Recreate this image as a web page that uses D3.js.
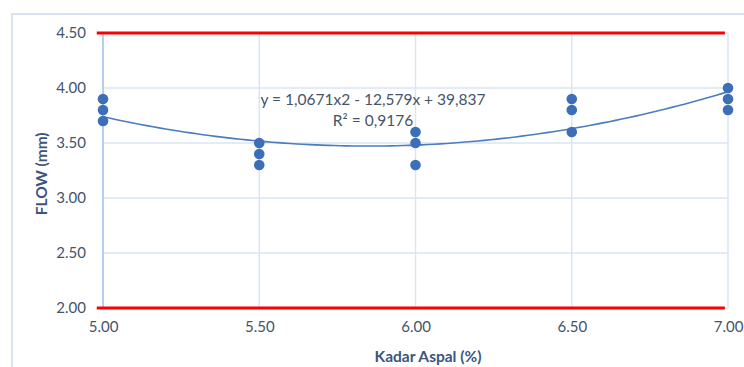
<!DOCTYPE html>
<html>
<head>
<meta charset="utf-8">
<script src="https://cdn.jsdelivr.net/npm/d3@7"></script>
<style>
  html, body { margin: 0; padding: 0; background: #fff; }
  svg { display: block; font-family: Lato, "Liberation Sans", sans-serif; }
</style>
</head>
<body>
<svg id="chart" width="744" height="367"></svg>
<script>
// Kadar aspal (%) for each test specimen and the measured flow (mm)
const kadarAspal = [5.0, 5.0, 5.0, 5.5, 5.5, 5.5, 6.0, 6.0, 6.0, 6.5, 6.5, 6.5, 7.0, 7.0, 7.0];
const flowValues = [3.9, 3.8, 3.7, 3.5, 3.4, 3.3, 3.6, 3.5, 3.3, 3.9, 3.8, 3.6, 4.0, 3.9, 3.8];

// Specification limits drawn as horizontal lines
const limitX = [4.98, 6.99];
const lowerLimit = [2.0, 2.0];
const upperLimit = [4.5, 4.5];

const xTicks = [5.0, 5.5, 6.0, 6.5, 7.0];
const yTicks = [2.0, 2.5, 3.0, 3.5, 4.0, 4.5];

const trendLabel = "y = 1,0671x2 - 12,579x + 39,837";
const r2Label = "R\u00B2 = 0,9176";

const svg = d3.select("#chart");
const textColor = "#44546A";
const titleColor = "#3B5580";

// Outer chart frame
svg.append("rect")
  .attr("x", 12).attr("y", 14)
  .attr("width", 760).attr("height", 380)
  .attr("fill", "none")
  .attr("stroke", "#D5E3F4")
  .attr("stroke-width", 2);

const x = d3.scaleLinear().domain([5.0, 7.0]).range([103, 728]);
const y = d3.scaleLinear().domain([2.0, 4.5]).range([308, 33]);

// Gridlines
svg.append("g")
  .selectAll("line")
  .data(yTicks)
  .join("line")
  .attr("x1", x(5.0)).attr("x2", x(7.0))
  .attr("y1", d => y(d)).attr("y2", d => y(d))
  .attr("stroke", "#D9E6F6").attr("stroke-width", 1.5);

svg.append("g")
  .selectAll("line")
  .data(xTicks.slice(1))
  .join("line")
  .attr("x1", d => x(d)).attr("x2", d => x(d))
  .attr("y1", y(4.5)).attr("y2", y(2.0))
  .attr("stroke", "#D9E6F6").attr("stroke-width", 1.5);

// Vertical value axis line
svg.append("line")
  .attr("x1", x(5.0)).attr("x2", x(5.0))
  .attr("y1", y(4.5)).attr("y2", y(2.0))
  .attr("stroke", "#9DC0E8").attr("stroke-width", 1.5);

// Axes (labels only)
const yAxis = d3.axisLeft(y).tickValues(yTicks).tickFormat(d3.format(".2f")).tickSize(0).tickPadding(17);
svg.append("g")
  .attr("transform", `translate(${x(5.0)},0)`)
  .call(yAxis)
  .call(g => g.select(".domain").remove())
  .call(g => g.selectAll("text").attr("fill", textColor).attr("font-size", 15).attr("font-family", "Lato, sans-serif"));

const xAxis = d3.axisBottom(x).tickValues(xTicks).tickFormat(d3.format(".2f")).tickSize(0).tickPadding(13);
svg.append("g")
  .attr("transform", `translate(0,${y(2.0)})`)
  .call(xAxis)
  .call(g => g.select(".domain").remove())
  .call(g => g.selectAll("text").attr("fill", textColor).attr("font-size", 15).attr("font-family", "Lato, sans-serif"));

// Limit lines
const pathOf = d3.line().x(d => x(d[0])).y(d => y(d[1]));
[lowerLimit, upperLimit].forEach(vals => {
  svg.append("path")
    .datum(limitX.map((xv, i) => [xv, vals[i]]))
    .attr("d", pathOf)
    .attr("fill", "none")
    .attr("stroke", "#FF0000")
    .attr("stroke-width", 3);
});

// Polynomial (order 2) least-squares trendline through the measurements
function polyFit2(xs, ys) {
  let s = [0, 0, 0, 0, 0], t = [0, 0, 0];
  xs.forEach((xv, i) => {
    let p = 1;
    for (let k = 0; k < 5; k++) { s[k] += p; if (k < 3) t[k] += p * ys[i]; p *= xv; }
  });
  const A = [[s[0], s[1], s[2], t[0]], [s[1], s[2], s[3], t[1]], [s[2], s[3], s[4], t[2]]];
  for (let c = 0; c < 3; c++) {
    for (let r = c + 1; r < 3; r++) {
      const f = A[r][c] / A[c][c];
      for (let k = c; k < 4; k++) A[r][k] -= f * A[c][k];
    }
  }
  const b = [0, 0, 0];
  for (let r = 2; r >= 0; r--) {
    let v = A[r][3];
    for (let k = r + 1; k < 3; k++) v -= A[r][k] * b[k];
    b[r] = v / A[r][r];
  }
  return b;
}
const coef = polyFit2(kadarAspal, flowValues);
const trendPts = d3.range(0, 101).map(i => {
  const xv = 5.0 + i * 0.02;
  return [xv, coef[0] + coef[1] * xv + coef[2] * xv * xv];
});
svg.append("path")
  .datum(trendPts)
  .attr("d", pathOf)
  .attr("fill", "none")
  .attr("stroke", "#4A7CC2")
  .attr("stroke-width", 1.6);

// Data points
svg.append("g")
  .selectAll("circle")
  .data(kadarAspal.map((k, i) => [k, flowValues[i]]))
  .join("circle")
  .attr("cx", d => x(d[0]))
  .attr("cy", d => y(d[1]))
  .attr("r", 5.3)
  .attr("fill", "#3D6FB8");

// Trendline equation
svg.append("text")
  .attr("x", 373).attr("y", 105)
  .attr("text-anchor", "middle")
  .attr("fill", textColor).attr("font-size", 15.5)
  .text(trendLabel);
svg.append("text")
  .attr("x", 373).attr("y", 126)
  .attr("text-anchor", "middle")
  .attr("fill", textColor).attr("font-size", 15.5)
  .text(r2Label);

// Axis titles
svg.append("text")
  .attr("x", 428).attr("y", 362)
  .attr("text-anchor", "middle")
  .attr("fill", titleColor).attr("font-size", 15.5).attr("font-weight", "bold")
  .text("Kadar Aspal (%)");
svg.append("text")
  .attr("transform", `translate(47,${y(3.22)}) rotate(-90)`)
  .attr("text-anchor", "middle")
  .attr("fill", titleColor).attr("font-size", 15.5).attr("font-weight", "bold")
  .text("FLOW (mm)");
</script>
</body>
</html>
